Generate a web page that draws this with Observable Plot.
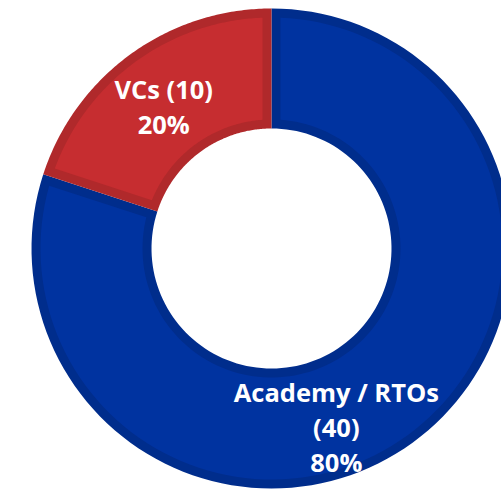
<!DOCTYPE html>
<html><head><meta charset="utf-8">
<script src="https://cdn.jsdelivr.net/npm/d3@7"></script>
<script src="https://cdn.jsdelivr.net/npm/@observablehq/plot@0.6"></script>
<style>body{margin:0;background:#fff}#chart{width:501px;height:489px;overflow:hidden}</style>
</head><body><div id="chart"></div>
<script>
const categories = ["Academy / RTOs", "VCs"];
const counts = [40, 10];
const labelLines = [["Academy / RTOs", "(40)"], ["VCs (10)"]];
const fills = ["#0033A0", "#C62D30"];
const borders = ["#002D8C", "#B0292B"];

const W = 501, H = 489;
const R = 240, r0 = 120, B = 9;
const total = d3.sum(counts);
const pie = d3.pie().sort(null).value(d => d.count)(categories.map((c, i) => ({c, count: counts[i], i})));

function sector(p, rOut, rIn, inset, color) {
  const pts = [];
  const n = 120;
  const aO = inset ? Math.asin(inset / rOut) : 0;
  const aI = inset ? Math.asin(inset / rIn) : 0;
  const o0 = p.startAngle + aO, o1 = p.endAngle - aO;
  const i0 = p.startAngle + aI, i1 = p.endAngle - aI;
  for (let k = 0; k <= n; k++) {
    const a = o0 + (o1 - o0) * k / n;
    pts.push({key: p.data.c, x: rOut * Math.sin(a), y: rOut * Math.cos(a), color});
  }
  for (let k = n; k >= 0; k--) {
    const a = i0 + (i1 - i0) * k / n;
    pts.push({key: p.data.c, x: rIn * Math.sin(a), y: rIn * Math.cos(a), color});
  }
  return pts;
}

const outerPts = pie.flatMap(p => sector(p, R, r0, 0, borders[p.data.i]));
const innerPts = pie.flatMap(p => sector(p, R - B, r0 + B, B, fills[p.data.i]));

const labels = pie.map(p => {
  const mid = (p.startAngle + p.endAngle) / 2, rm = (R + r0) / 2;
  const pct = Math.round(p.data.count / total * 100) + "%";
  return {key: p.data.c, x: rm * Math.sin(mid), y: rm * Math.cos(mid),
          text: [...labelLines[p.data.i], pct].join("\n")};
});

const textStyle = {fill: "white", fontSize: 25.5, fontWeight: "bold", fontFamily: "Open Sans", lineHeight: 1.37};

const chart = Plot.plot({
  width: W, height: H,
  margin: 0,
  x: {domain: [-271, W - 271], axis: null},
  y: {domain: [-(H - 248), 248], axis: null},
  color: {type: "identity"},
  marks: [
    Plot.line(outerPts, {x: "x", y: "y", z: "key", fill: "color", stroke: "none", curve: "linear-closed"}),
    Plot.line(innerPts, {x: "x", y: "y", z: "key", fill: "color", stroke: "none", curve: "linear-closed"}),
    Plot.text(labels.filter(d => d.key === "VCs"), {x: "x", y: "y", text: "text", dx: -2, dy: 2, ...textStyle}),
    Plot.text(labels.filter(d => d.key !== "VCs"), {x: "x", y: "y", text: "text", dx: -41, dy: 32, ...textStyle})
  ]
});
document.getElementById("chart").appendChild(chart);
</script>
</body></html>
